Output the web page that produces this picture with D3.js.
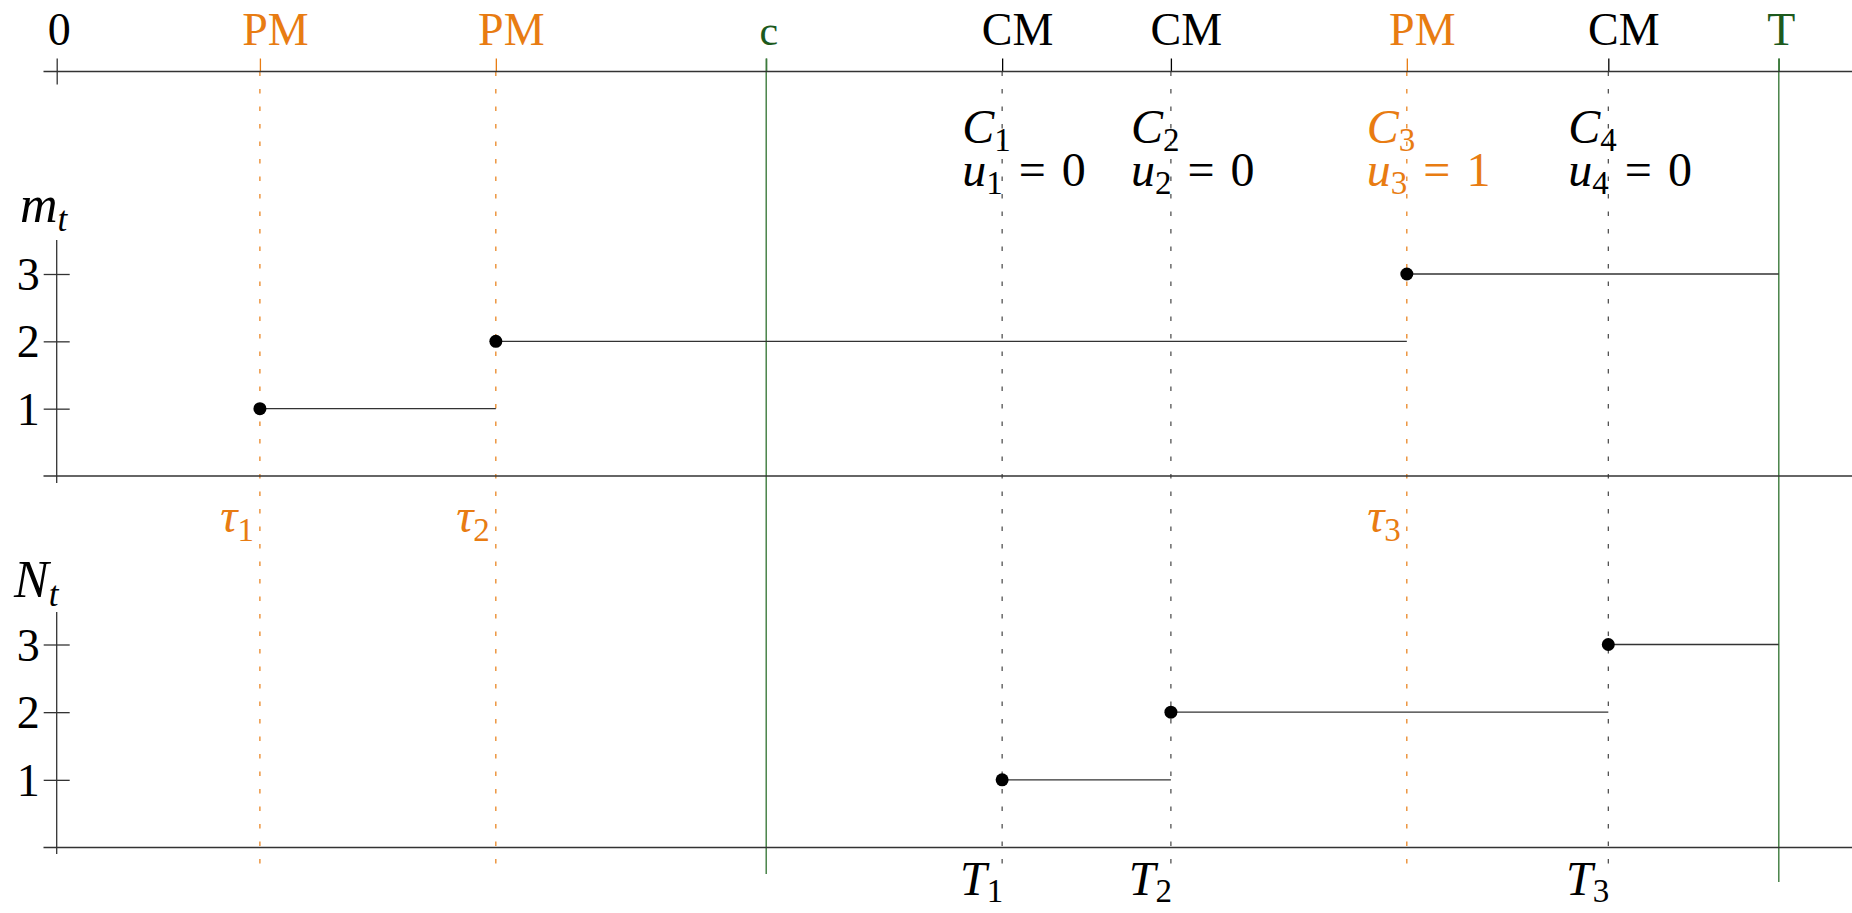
<!DOCTYPE html>
<html>
<head>
<meta charset="utf-8">
<script src="https://cdn.jsdelivr.net/npm/d3@7"></script>
<style>
  html, body { margin: 0; padding: 0; background: #fff; }
</style>
</head>
<body>
<div id="chart"></div>
<script>
// times (horizon T = 10)
const pmTimes = [1.18, 2.55, 7.84];
const cmTimes = [5.49, 6.47, 9.01];
const cTime = 4.12;
const horizon = 10;

const mValues = [1, 2, 3];          // m_t after each PM
const nValues = [1, 2, 3];          // N_t after each CM
const claimTimes = [5.49, 6.47, 7.84, 9.01];
const claimU = [0, 0, 1, 0];
const yTicks = [1, 2, 3];

const FONT = '"Liberation Serif", "DejaVu Serif", serif';
const ORANGE = '#e87c12';
const GREEN_LINE = '#3c7a3c';
const GREEN_TEXT = '#1d5a1d';
const INK = '#000';
const LINE = '#333';

const W = 1852, H = 913;

const svg = d3.select('#chart').append('svg')
    .attr('width', W)
    .attr('height', H)
    .attr('font-family', FONT);

const x = d3.scaleLinear().domain([0, horizon]).range([56.7, 1778.8]);
const yM = d3.scaleLinear().domain([0, 3]).range([476, 274]);
const yN = d3.scaleLinear().domain([0, 3]).range([847.5, 644.5]);

const topY = 71.5;

// vertical guide lines
const guides = svg.append('g');
guides.selectAll('.pm-guide')
    .data(pmTimes)
    .enter()
    .append('line')
    .attr('x1', d => x(d)).attr('x2', d => x(d))
    .attr('y1', topY).attr('y2', 871)
    .attr('stroke', ORANGE)
    .attr('stroke-width', 1.2)
    .attr('stroke-dasharray', '4.5,13');
guides.selectAll('.cm-guide')
    .data(cmTimes)
    .enter()
    .append('line')
    .attr('x1', d => x(d)).attr('x2', d => x(d))
    .attr('y1', topY).attr('y2', 871)
    .attr('stroke', '#444')
    .attr('stroke-width', 1.2)
    .attr('stroke-dasharray', '4.5,13');
guides.selectAll('.green-guide')
    .data([[cTime, 874], [horizon, 882]])
    .enter()
    .append('line')
    .attr('x1', d => x(d[0])).attr('x2', d => x(d[0]))
    .attr('y1', topY - 13).attr('y2', d => d[1])
    .attr('stroke', GREEN_LINE)
    .attr('stroke-width', 1.4);

// top time axis
const topTicks = [0].concat(pmTimes, [cTime], cmTimes, [horizon]).sort((a, b) => a - b);
function tickLabel(t) {
    if (t === 0) return '0';
    if (t === cTime) return 'c';
    if (t === horizon) return 'T';
    return pmTimes.includes(t) ? 'PM' : 'CM';
}
function tickColor(t) {
    if (t === cTime || t === horizon) return GREEN_TEXT;
    return pmTimes.includes(t) ? ORANGE : INK;
}
function isMarket(t) {
    return pmTimes.includes(t) || cmTimes.includes(t);
}

const topAxis = svg.append('g')
    .attr('transform', `translate(0,${topY})`)
    .call(d3.axisTop(x).tickValues(topTicks).tickSize(13).tickSizeOuter(0).tickFormat(tickLabel))
    .attr('font-family', FONT);
topAxis.select('.domain').remove();
topAxis.selectAll('.tick line')
    .attr('stroke', d => d === 0 ? LINE : (d === cTime || d === horizon ? GREEN_LINE : tickColor(d)))
    .attr('stroke-width', 1.3)
    .attr('y2', d => d === 0 ? 13 : -13)
    .attr('y1', d => d === 0 ? -13 : 0);
topAxis.selectAll('.tick text')
    .attr('y', -27)
    .attr('dy', 0)
    .attr('dx', d => isMarket(d) ? 15 : 2)
    .attr('fill', tickColor)
    .style('font-family', FONT)
    .style('font-size', d => (d === cTime ? '42px' : '46px'));
svg.append('line')
    .attr('x1', 43.5).attr('x2', W)
    .attr('y1', topY).attr('y2', topY)
    .attr('stroke', LINE).attr('stroke-width', 1.3);

// claim labels, two lines in one text block
claimTimes.forEach((t, i) => {
    const col = claimU[i] === 1 ? ORANGE : INK;
    const lx = x(t) - 40;
    const c = svg.append('text')
        .attr('x', lx).attr('y', 143)
        .attr('fill', col)
        .style('font-family', FONT)
        .style('font-size', '48px');
    c.append('tspan').text('C').style('font-style', 'italic');
    c.append('tspan').text(i + 1).attr('dy', 8).style('font-size', '33px');
    c.append('tspan').text('u').attr('x', lx).attr('y', 186).style('font-style', 'italic');
    c.append('tspan').text(i + 1).attr('dy', 8).style('font-size', '33px');
    c.append('tspan').text('\u2004=\u2004' + claimU[i]).attr('dy', -8);
});

// panel helper
function drawPanel(yScale, top, bottom, label, labelX, labelY, starts, values) {
    const g = svg.append('g');
    const base = yScale(0);

    g.append('line')
        .attr('x1', x(0)).attr('x2', x(0))
        .attr('y1', top).attr('y2', bottom)
        .attr('stroke', LINE).attr('stroke-width', 1.3);
    g.append('line')
        .attr('x1', 43.5).attr('x2', W)
        .attr('y1', base).attr('y2', base)
        .attr('stroke', LINE).attr('stroke-width', 1.3);

    const ax = g.append('g')
        .attr('transform', `translate(${x(0)},0)`)
        .call(d3.axisLeft(yScale).tickValues(yTicks).tickSize(13).tickFormat(d3.format('d')))
        .attr('font-family', FONT);
    ax.select('.domain').remove();
    ax.selectAll('.tick line')
        .attr('x1', -13).attr('x2', 13)
        .attr('stroke', LINE).attr('stroke-width', 1.3);
    ax.selectAll('.tick text')
        .attr('x', -17)
        .attr('dy', '0.34em')
        .attr('fill', INK)
        .style('font-family', FONT)
        .style('font-size', '46px');

    const lab = g.append('text')
        .attr('x', labelX).attr('y', labelY)
        .attr('fill', INK)
        .style('font-family', FONT)
        .style('font-size', '52px');
    lab.append('tspan').text(label).style('font-style', 'italic');
    lab.append('tspan').text('t').attr('dy', 9).style('font-size', '35px').style('font-style', 'italic');

    const steps = starts.map((s, i) => ({
        x0: s,
        x1: i + 1 < starts.length ? starts[i + 1] : horizon,
        v: values[i]
    }));
    g.selectAll('.step')
        .data(steps)
        .enter()
        .append('line')
        .attr('x1', d => x(d.x0)).attr('x2', d => x(d.x1))
        .attr('y1', d => yScale(d.v)).attr('y2', d => yScale(d.v))
        .attr('stroke', LINE).attr('stroke-width', 1.3);
    g.selectAll('.dot')
        .data(steps)
        .enter()
        .append('circle')
        .attr('cx', d => x(d.x0))
        .attr('cy', d => yScale(d.v))
        .attr('r', 6.5)
        .attr('fill', INK);
}

drawPanel(yM, 240, 483, 'm', 20, 222, pmTimes, mValues);
drawPanel(yN, 612, 854, 'N', 14, 597, cmTimes, nValues);

// tau labels under the m panel
pmTimes.forEach((t, i) => {
    const tx = svg.append('text')
        .attr('x', x(t) - 6).attr('y', 532)
        .attr('text-anchor', 'end')
        .attr('fill', ORANGE)
        .style('font-family', FONT)
        .style('font-size', '48px');
    tx.append('tspan').text('τ').style('font-style', 'italic');
    tx.append('tspan').text(i + 1).attr('dy', 9).style('font-size', '33px');
});

// T labels under the N panel
cmTimes.forEach((t, i) => {
    const tx = svg.append('text')
        .attr('x', x(t) + 1).attr('y', 895)
        .attr('text-anchor', 'end')
        .attr('fill', INK)
        .style('font-family', FONT)
        .style('font-size', '48px');
    tx.append('tspan').text('T').style('font-style', 'italic');
    tx.append('tspan').text(i + 1).attr('dy', 7).style('font-size', '33px');
});
</script>
</body>
</html>
